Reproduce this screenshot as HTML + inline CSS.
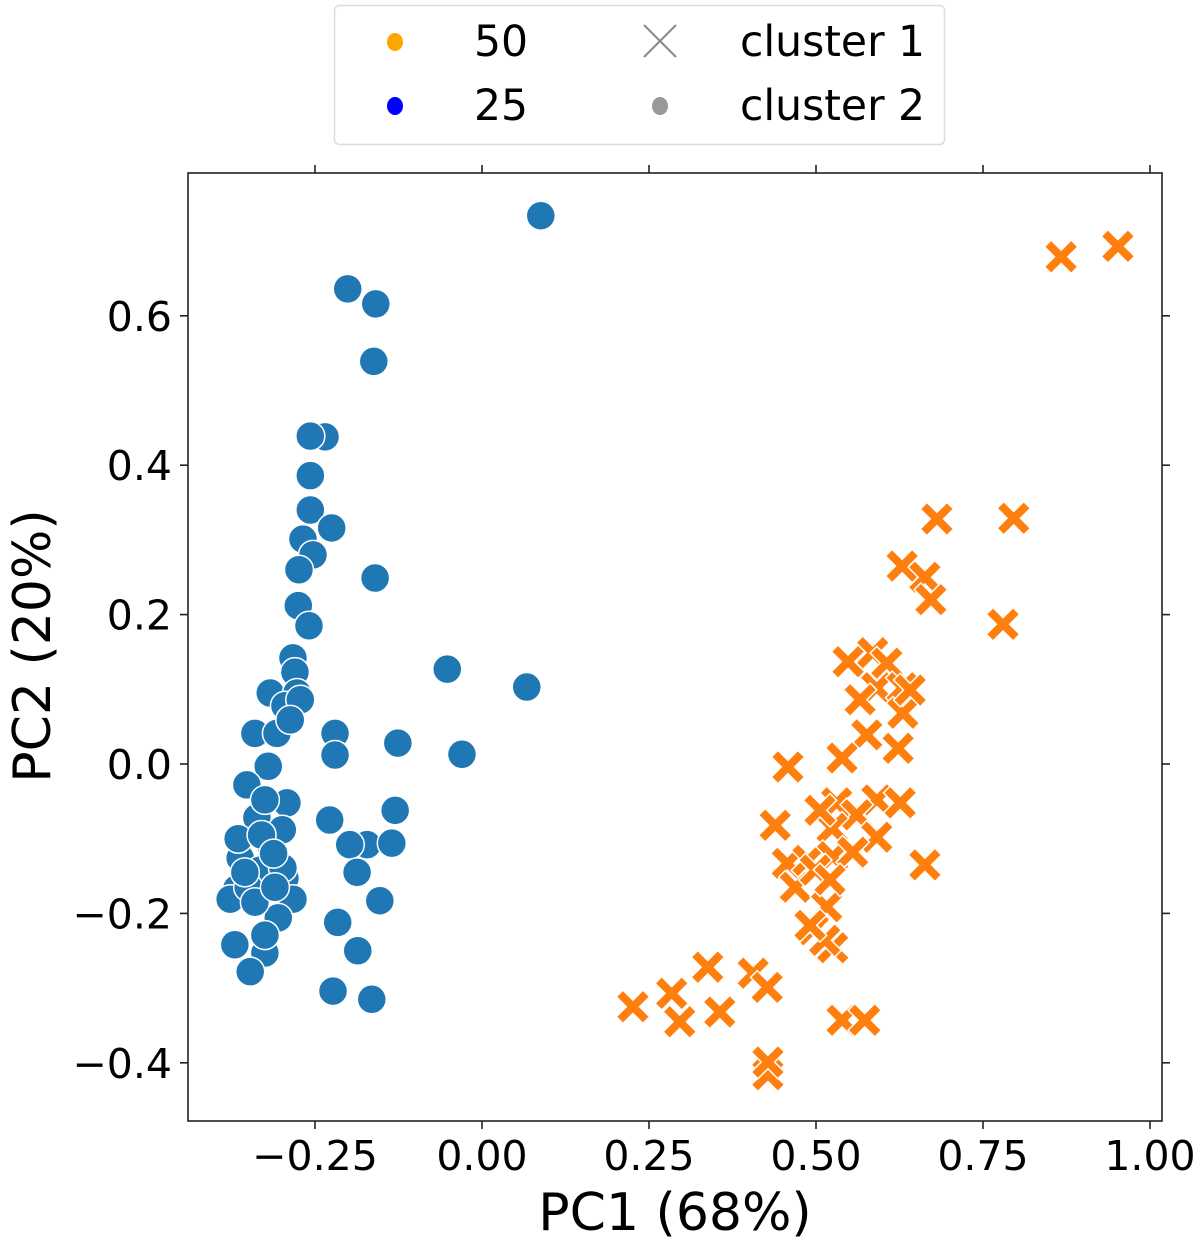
<!DOCTYPE html>
<html><head><meta charset="utf-8">
<style>
html,body{margin:0;padding:0;background:#fff;}
svg{display:block;font-family:"DejaVu Sans","Liberation Sans",sans-serif;}
</style></head>
<body>
<svg id="chart" width="1200" height="1243" viewBox="0 0 1200 1243" xmlns="http://www.w3.org/2000/svg">
  <g id="marks"></g>
  <rect x="188" y="173" width="974" height="948" fill="none" stroke="#222" stroke-width="1.6"/>
  <g id="axes"></g>
  <text x="675" y="1230" font-size="52" text-anchor="middle">PC1 (68%)</text>
  <text transform="translate(50,646) rotate(-90)" font-size="52" text-anchor="middle">PC2 (20%)</text>
  <g>
    <rect x="334.5" y="5.5" width="610" height="139" rx="5" fill="#fff" stroke="#ddd" stroke-width="1.5"/>
    <g>
      <ellipse cx="395" cy="42" rx="8" ry="9" fill="#ffa500"/>
      <text x="474" y="56" font-size="42.5">50</text>
    </g>
    <g>
      <ellipse cx="395" cy="106" rx="8" ry="9" fill="#0000ff"/>
      <text x="474" y="120" font-size="42.5">25</text>
    </g>
    <g>
      <path d="M644,25 L676,57 M676,25 L644,57" stroke="#888" stroke-width="2" fill="none"/>
      <text x="740" y="56" font-size="42.5">cluster 1</text>
    </g>
    <g>
      <ellipse cx="660" cy="106" rx="8" ry="9" fill="#999"/>
      <text x="740" y="120" font-size="42.5">cluster 2</text>
    </g>
  </g>
</svg>
<script>
const xTicks = [-0.25, 0.00, 0.25, 0.50, 0.75, 1.00];
const xTickLabels = ["\u22120.25", "0.00", "0.25", "0.50", "0.75", "1.00"];
const yTicks = [-0.4, -0.2, 0.0, 0.2, 0.4, 0.6];
const yTickLabels = ["\u22120.4", "\u22120.2", "0.0", "0.2", "0.4", "0.6"];
const cluster2X = [-0.235,-0.257,-0.257,-0.257,-0.225,-0.268,-0.253,-0.274,-0.160,-0.275,-0.259,-0.283,-0.280,-0.317,-0.277,-0.295,-0.340,-0.307,-0.220,-0.220,-0.126,-0.320,-0.352,-0.292,-0.337,-0.228,-0.130,-0.362,-0.172,-0.135,-0.198,-0.325,-0.295,-0.367,-0.187,-0.153,-0.377,-0.283,-0.305,-0.216,-0.370,-0.325,-0.347,-0.186,-0.223,-0.165,0.088,-0.201,-0.159,-0.162,-0.052,0.067,-0.030,-0.325,-0.317,-0.332,-0.299,-0.272,-0.287,-0.298,-0.325,-0.365,-0.350,-0.340,-0.310,-0.355,-0.330,-0.312];
const cluster2Y = [0.438,0.439,0.386,0.340,0.316,0.301,0.280,0.260,0.249,0.212,0.185,0.142,0.123,0.095,0.095,0.078,0.041,0.041,0.041,0.012,0.028,-0.003,-0.028,-0.052,-0.072,-0.075,-0.062,-0.126,-0.108,-0.106,-0.108,-0.147,-0.153,-0.167,-0.145,-0.183,-0.181,-0.181,-0.206,-0.212,-0.242,-0.253,-0.278,-0.250,-0.304,-0.315,0.734,0.636,0.616,0.539,0.127,0.103,0.013,-0.048,-0.108,-0.142,-0.088,0.086,0.059,-0.139,-0.229,-0.100,-0.165,-0.185,-0.165,-0.145,-0.095,-0.120];
const cluster1X = [0.548,0.585,0.606,0.591,0.629,0.630,0.576,0.623,0.539,0.458,0.531,0.591,0.626,0.561,0.439,0.524,0.591,0.457,0.488,0.525,0.555,0.663,0.469,0.516,0.496,0.525,0.338,0.406,0.427,0.284,0.226,0.296,0.356,0.539,0.573,0.428,0.428,0.867,0.952,0.681,0.796,0.629,0.663,0.672,0.780,0.641,0.566,0.499,0.521,0.513,0.491,0.506];
const cluster1Y = [0.137,0.149,0.135,0.102,0.102,0.068,0.039,0.021,0.008,-0.004,-0.052,-0.048,-0.052,-0.068,-0.082,-0.086,-0.098,-0.133,-0.129,-0.124,-0.118,-0.135,-0.165,-0.191,-0.222,-0.246,-0.272,-0.280,-0.299,-0.307,-0.325,-0.345,-0.332,-0.343,-0.343,-0.416,-0.399,0.679,0.693,0.328,0.329,0.265,0.250,0.220,0.187,0.099,0.086,-0.142,-0.155,-0.236,-0.216,-0.062];

const NS = "http://www.w3.org/2000/svg";
function sx(v){ return 482 + v * 668; }
function sy(v){ return 764 - v * 747; }
function mk(tag, attrs, parent){
  const e = document.createElementNS(NS, tag);
  for (const k in attrs) e.setAttribute(k, attrs[k]);
  parent.appendChild(e);
  return e;
}
const marks = document.getElementById('marks');
const axes = document.getElementById('axes');

cluster2X.forEach((v, i) => {
  const c = mk('circle', {cx: sx(v), cy: sy(cluster2Y[i]), r: 14.5, fill: '#1f77b4', stroke: '#fff', 'stroke-width': 1.5}, marks);
  
  
});
cluster1X.forEach((v, i) => {
  const x = sx(v), y = sy(cluster1Y[i]), h = 10;
  const g = mk('g', {}, marks);
  
  
  const d = `M${x-h},${y-h} L${x+h},${y+h} M${x+h},${y-h} L${x-h},${y+h}`;
  mk('path', {d: d, stroke: '#fff', 'stroke-width': 11, fill: 'none', 'stroke-linecap': 'square'}, g);
  mk('path', {d: d, stroke: '#ff7f0e', 'stroke-width': 8, fill: 'none', 'stroke-linecap': 'square'}, g);
});

xTicks.forEach((v, i) => {
  const x = sx(v);
  mk('line', {x1: x, y1: 1121, x2: x, y2: 1129, stroke: '#222', 'stroke-width': 1.6}, axes);
  mk('line', {x1: x, y1: 173, x2: x, y2: 165, stroke: '#222', 'stroke-width': 1.6}, axes);
  const t = mk('text', {x: x, y: 1170, 'font-size': 41, 'text-anchor': 'middle'}, axes);
  t.textContent = xTickLabels[i];
  
  
});
yTicks.forEach((v, i) => {
  const y = sy(v);
  mk('line', {x1: 188, y1: y, x2: 180, y2: y, stroke: '#222', 'stroke-width': 1.6}, axes);
  mk('line', {x1: 1162, y1: y, x2: 1170, y2: y, stroke: '#222', 'stroke-width': 1.6}, axes);
  const t = mk('text', {x: 172, y: y + 15, 'font-size': 41, 'text-anchor': 'end'}, axes);
  t.textContent = yTickLabels[i];
  
  
});
</script>
</body></html>
